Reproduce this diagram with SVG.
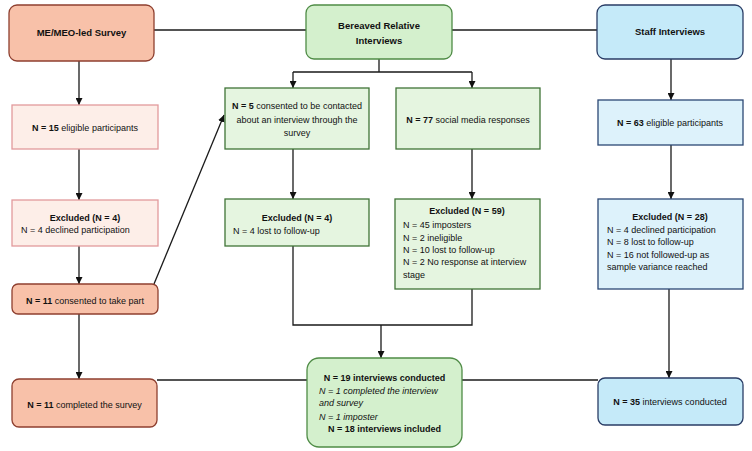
<svg xmlns="http://www.w3.org/2000/svg" width="752" height="451" viewBox="0 0 752 451">
<style>
text{font-family:"Liberation Sans",Arial,sans-serif;font-size:9px;fill:#111}
.t{font-size:9.5px;font-weight:bold}
.b{font-weight:bold}
.c{text-anchor:middle}
.i{font-style:italic}
.sal{fill:#F8C1A9;stroke:#8E3F2F;stroke-width:1.3}
.pink{fill:#FDEEE8;stroke:#E29A9C;stroke-width:1.3}
.gh{fill:#D4F0CD;stroke:#4F8C46;stroke-width:1.3}
.gb{fill:#E5F5E0;stroke:#3F7337;stroke-width:1.3}
.bh{fill:#C5EAF9;stroke:#2A3D66;stroke-width:1.3}
.bb{fill:#DDF2FB;stroke:#2C4774;stroke-width:1.3}
.ln{fill:none;stroke:#1a1a1a;stroke-width:1.3}
</style>
<defs>
<marker id="ah" markerUnits="userSpaceOnUse" markerWidth="7" markerHeight="7" refX="7" refY="3.5" orient="auto">
<path d="M0,0 L7,3.5 L0,7 z" fill="#111"/>
</marker>
</defs>
<rect width="752" height="451" fill="#fff"/>
<g id="connectors">
<path class="ln" d="M154,30 H306"/>
<path class="ln" d="M452,30 H597"/>
<path class="ln" d="M79,61 V105" marker-end="url(#ah)"/>
<path class="ln" d="M79,149 V200" marker-end="url(#ah)"/>
<path class="ln" d="M79,246 V284" marker-end="url(#ah)"/>
<path class="ln" d="M79,314 V379" marker-end="url(#ah)"/>
<path class="ln" d="M154,284 L224,115" marker-end="url(#ah)"/>
<path class="ln" d="M379,59 V72 M293,72 H472"/>
<path class="ln" d="M293,72 V88" marker-end="url(#ah)"/>
<path class="ln" d="M472,72 V88" marker-end="url(#ah)"/>
<path class="ln" d="M293,149 V199" marker-end="url(#ah)"/>
<path class="ln" d="M472,149 V199" marker-end="url(#ah)"/>
<path class="ln" d="M293,246 V325 H472 V289"/>
<path class="ln" d="M381,325 V358" marker-end="url(#ah)"/>
<path class="ln" d="M671,59 V100" marker-end="url(#ah)"/>
<path class="ln" d="M671,145 V199" marker-end="url(#ah)"/>
<path class="ln" d="M669,289 V378" marker-end="url(#ah)"/>
<path class="ln" d="M157,380 H307"/>
<path class="ln" d="M462,380 H598"/>
</g>
<g id="survey">
<rect class="sal" x="9" y="5" width="145" height="56" rx="8"/>
<text class="t c" x="81.5" y="36">ME/MEO-led Survey</text>
</g>
<g id="bereaved">
<rect class="gh" x="306" y="5" width="146" height="54" rx="8"/>
<text class="t c" x="379" y="29">Bereaved Relative</text>
<text class="t c" x="379" y="44">Interviews</text>
</g>
<g id="staff">
<rect class="bh" x="597" y="5" width="146" height="54" rx="8"/>
<text class="t c" x="670" y="35">Staff Interviews</text>
</g>
<g id="eligible15">
<rect class="pink" x="12" y="105" width="146" height="44"/>
<text class="c" x="85" y="131"><tspan class="b">N = 15</tspan> eligible participants</text>
</g>
<g id="excluded4a">
<rect class="pink" x="12" y="200" width="146" height="46"/>
<text class="b c" x="85" y="221">Excluded (N = 4)</text>
<text x="21" y="233">N = 4 declined participation</text>
</g>
<g id="consented11">
<rect class="sal" x="12" y="284" width="146" height="30" rx="6"/>
<text class="c" x="85" y="304"><tspan class="b">N = 11</tspan> consented to take part</text>
</g>
<g id="completed11">
<rect class="sal" x="12" y="379" width="145" height="48" rx="7"/>
<text class="c" x="84.5" y="408"><tspan class="b">N = 11</tspan> completed the survey</text>
</g>
<g id="consented5">
<rect class="gb" x="225" y="88" width="144" height="61"/>
<text class="c" x="297" y="109"><tspan class="b">N = 5</tspan> consented to be contacted</text>
<text class="c" x="297" y="123">about an interview through the</text>
<text class="c" x="297" y="136">survey</text>
</g>
<g id="social77">
<rect class="gb" x="396" y="88" width="144" height="61"/>
<text class="c" x="468" y="123"><tspan class="b">N = 77</tspan> social media responses</text>
</g>
<g id="excluded4b">
<rect class="gb" x="225" y="199" width="144" height="47"/>
<text class="b c" x="297" y="221">Excluded (N = 4)</text>
<text x="233" y="234">N = 4 lost to follow-up</text>
</g>
<g id="excluded59">
<rect class="gb" x="395" y="199" width="145" height="90"/>
<text class="b c" x="467" y="214">Excluded (N = 59)</text>
<text x="403" y="228">N = 45 imposters</text>
<text x="403" y="241">N = 2 ineligible</text>
<text x="403" y="253">N = 10 lost to follow-up</text>
<text x="403" y="265">N = 2 No response at interview</text>
<text x="403" y="278">stage</text>
</g>
<g id="conducted19">
<rect class="gh" x="307" y="358" width="155" height="89" rx="12"/>
<text class="b c" x="384.5" y="381">N = 19 interviews conducted</text>
<text class="i" x="319" y="394">N = 1 completed the interview</text>
<text class="i" x="319" y="406">and survey</text>
<text class="i" x="319" y="420">N = 1 imposter</text>
<text class="b c" x="384.5" y="432">N = 18 interviews included</text>
</g>
<g id="eligible63">
<rect class="bb" x="598" y="100" width="145" height="45"/>
<text class="c" x="670" y="126"><tspan class="b">N = 63</tspan> eligible participants</text>
</g>
<g id="excluded28">
<rect class="bb" x="598" y="199" width="145" height="90"/>
<text class="b c" x="670" y="220">Excluded (N = 28)</text>
<text x="607" y="233">N = 4 declined participation</text>
<text x="607" y="245">N = 8 lost to follow-up</text>
<text x="607" y="258">N = 16 not followed-up as</text>
<text x="607" y="270">sample variance reached</text>
</g>
<g id="conducted35">
<rect class="bh" x="598" y="378" width="145" height="47" rx="7"/>
<text class="c" x="670" y="405"><tspan class="b">N = 35</tspan> interviews conducted</text>
</g>
</svg>
